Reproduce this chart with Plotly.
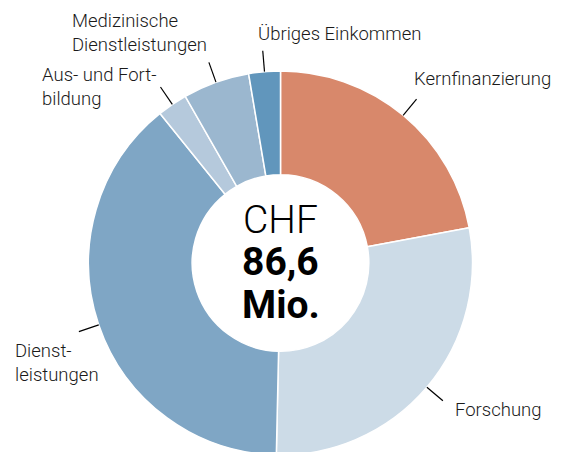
import math
import plotly.graph_objects as go

# Einnahmen in Mio. CHF (aus der Grafik geschätzt), Uhrzeigersinn ab 12 Uhr
labels = ["Kernfinanzierung", "Forschung", "Dienstleistungen",
          "Aus- und Fortbildung", "Medizinische Dienstleistungen", "Übriges Einkommen"]
label_text = ["Kernfinanzierung", "Forschung", "Dienst-<br>leistungen",
              "Aus- und Fort-<br>bildung", "Medizinische<br>Dienstleistungen", "Übriges Einkommen"]
values = [19.1, 24.5, 33.65, 2.2, 4.85, 2.3]
colors = ["#D8886B", "#CCDBE7", "#7FA6C5", "#B5C9DC", "#9BB7CF", "#6196BC"]
total_text = ["CHF", "86,6", "Mio."]

W, H = 569, 452
PAD = 8                       # Standard-Rand des <body> im Browser
R = 192                       # Radius in px
CX, CY = 280.5 - PAD, 263 - PAD   # Mittelpunkt in px (von oben, Figurkoordinaten)

fig = go.Figure()
fig.add_trace(go.Pie(
    labels=labels, values=values, sort=False, direction="clockwise", rotation=0,
    hole=0.46, textinfo="none", hoverinfo="label+value",
    marker=dict(colors=colors, line=dict(color="white", width=1.5)),
    domain=dict(x=[(CX - R) / W, (CX + R) / W], y=[1 - (CY + R) / H, 1 - (CY - R) / H]),
    showlegend=False,
))

def to_paper(px, py):
    return px / W, 1 - py / H

# Beschriftung: Anker relativ zum Ende der Hinweislinie
label_style = [
    dict(xanchor="left", yanchor="bottom", xshift=-5, yshift=7),
    dict(xanchor="left", yanchor="middle", xshift=10, yshift=-9),
    dict(xanchor="right", yanchor="top", xshift=22, yshift=-6),
    dict(xanchor="right", yanchor="middle", xshift=-2, yshift=0),
    dict(xanchor="right", yanchor="bottom", xshift=0, yshift=4),
    dict(xanchor="left", yanchor="bottom", xshift=-7, yshift=4),
]

total = sum(values)
cum = 0
for v, txt, st in zip(values, label_text, label_style):
    mid = (cum + v / 2) / total * 2 * math.pi
    cum += v
    x0, y0 = to_paper(CX + R * math.sin(mid), CY - R * math.cos(mid))
    x1, y1 = to_paper(CX + (R + 21) * math.sin(mid), CY - (R + 21) * math.cos(mid))
    fig.add_shape(type="line", xref="paper", yref="paper", x0=x0, y0=y0, x1=x1, y1=y1,
                  line=dict(color="black", width=1.2))
    fig.add_annotation(x=x1, y=y1, xref="paper", yref="paper", text=txt, showarrow=False,
                       align="left", font=dict(size=18.5, color="#1a1a1a", weight=300), **st)

# Summe in der Mitte
center_y = [220 - PAD, 262 - PAD, 305 - PAD]
center_w = [300, 700, 700]
for txt, py, wgt in zip(total_text, center_y, center_w):
    fig.add_annotation(x=CX / W, y=1 - py / H, xref="paper", yref="paper", text=txt,
                       showarrow=False, xanchor="center", yanchor="middle",
                       font=dict(size=39, color="black", weight=wgt))

fig.update_layout(
    width=W, height=H,
    margin=dict(l=0, r=0, t=0, b=0),
    paper_bgcolor="white", plot_bgcolor="white",
    font=dict(family="Roboto", color="#1a1a1a"),
)

fig.write_html("out.html")
